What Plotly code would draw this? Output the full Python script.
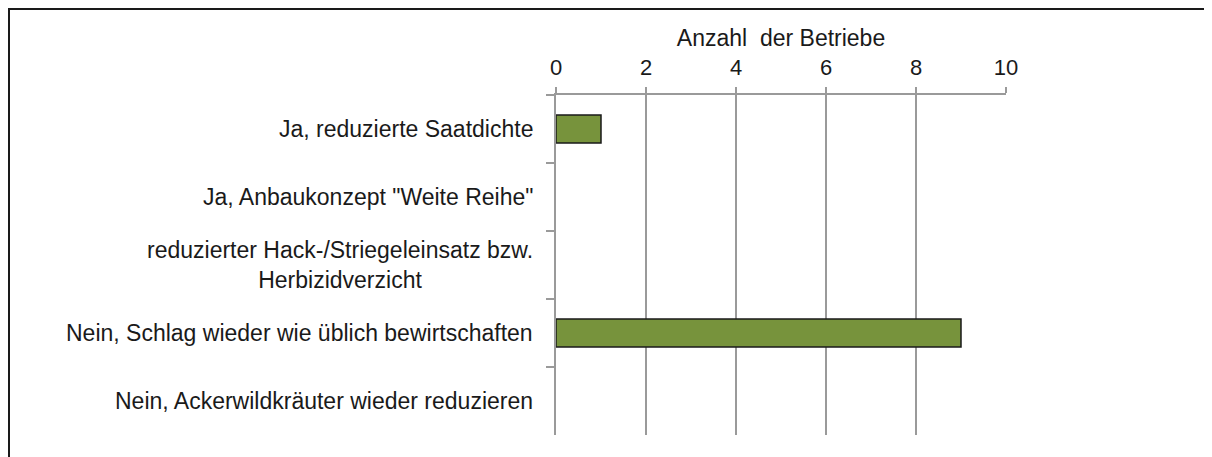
import plotly.graph_objects as go

categories = [
    "Ja, reduzierte Saatdichte",
    "Ja, Anbaukonzept \"Weite Reihe\"",
    "reduzierter Hack-/Striegeleinsatz bzw.<br>Herbizidverzicht",
    "Nein, Schlag wieder wie üblich bewirtschaften",
    "Nein, Ackerwildkräuter wieder reduzieren",
]
values = [1, 0, 0, 9, 0]
x_ticks = [0, 2, 4, 6, 8, 10]
x_title = "Anzahl  der Betriebe"

FONT = "Liberation Sans, Arial, sans-serif"
GRID = "#9a9a9a"
TXT = "#1a1a1a"

# plot area in figure pixels: x 548..998, y 87..427 (450 x 340)
L, T, PW, PH = 548, 87, 450, 340

fig = go.Figure()
fig.add_trace(go.Bar(
    x=values, y=categories, orientation="h",
    marker=dict(color="#77933C",
                line=dict(color=TXT, width=[1.5 if v > 0 else 0 for v in values])),
    showlegend=False, hoverinfo="x+y",
))

for c in categories:
    fig.add_annotation(
        x=0, y=c, xref="x", yref="y", text=c, showarrow=False,
        xanchor="right", yanchor="middle", align="center", xshift=-21,
        font=dict(family=FONT, size=23, color=TXT),
    )

fig.update_layout(
    width=1212, height=457,
    margin=dict(l=L, r=1212 - L - PW, t=T, b=457 - T - PH),
    paper_bgcolor="white", plot_bgcolor="white",
    bargap=0.59,
    font=dict(family=FONT, size=22, color=TXT),
    xaxis=dict(
        side="top", range=[0, 10], tickvals=x_ticks, ticktext=[str(t) for t in x_ticks],
        showgrid=True, gridcolor=GRID, gridwidth=2,
        showline=True, linecolor=GRID, linewidth=2,
        ticks="outside", ticklen=6, tickcolor=GRID, tickwidth=2,
        ticklabelstandoff=3,
        zeroline=False,
        tickfont=dict(family=FONT, size=22, color=TXT),
        title=dict(text=x_title, font=dict(family=FONT, size=23, color=TXT), standoff=2),
    ),
    yaxis=dict(
        autorange="reversed", showticklabels=False,
        showline=True, linecolor=GRID, linewidth=2,
        ticks="outside", ticklen=8, tickcolor=GRID, tickwidth=2,
        tickson="boundaries", showgrid=False, zeroline=False,
    ),
    shapes=[dict(
        type="rect", xref="paper", yref="paper",
        x0=(1 - L) / PW, x1=(1240 - L) / PW,
        y0=(T + PH - 480) / PH, y1=(T + PH - 1) / PH,
        line=dict(color=TXT, width=2), fillcolor="rgba(0,0,0,0)", layer="below",
    )],
)

fig.write_html("out.html")
